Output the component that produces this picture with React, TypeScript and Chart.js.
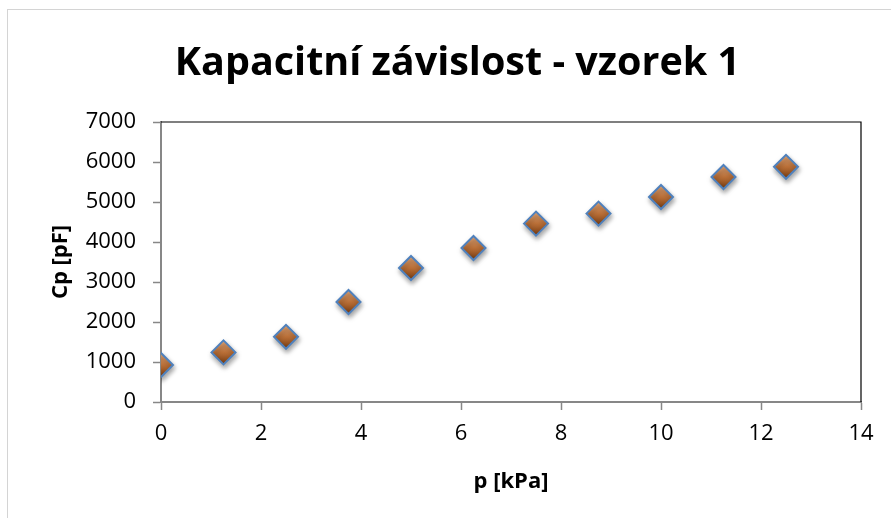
import React, { useEffect, useRef } from "react";
import { Chart, registerables } from "chart.js";

Chart.register(...registerables);

const TITLE = "Kapacitní závislost - vzorek 1";
const X_TITLE = "p [kPa]";
const Y_TITLE = "Cp [pF]";
const pressure = [0, 1.25, 2.5, 3.75, 5, 6.25, 7.5, 8.75, 10, 11.25, 12.5];
const capacitance = [925, 1240, 1630, 2500, 3350, 3850, 4460, 4710, 5125, 5625, 5880];
const X_MIN = 0;
const X_MAX = 14;
const X_STEP = 2;
const Y_MIN = 0;
const Y_MAX = 7000;
const Y_STEP = 1000;

const FONT = "'Open Sans', Lato, 'Liberation Sans', sans-serif";

const frameLines = {
  id: "frameLines",
  beforeDatasetsDraw(chart: any) {
    const { ctx, chartArea } = chart;
    ctx.save();
    ctx.strokeStyle = "#000000";
    ctx.lineWidth = 1.2;
    ctx.beginPath();
    ctx.moveTo(chartArea.left, chartArea.top);
    ctx.lineTo(chartArea.right, chartArea.top);
    ctx.lineTo(chartArea.right, chartArea.bottom);
    ctx.stroke();
    ctx.restore();
    ctx.save();
    ctx.shadowColor = "rgba(0,0,0,0.35)";
    ctx.shadowBlur = 5;
    ctx.shadowOffsetX = 1;
    ctx.shadowOffsetY = 3;
  },
  afterDatasetsDraw(chart: any) {
    chart.ctx.restore();
  },
};

export default function App() {
  const ref = useRef<HTMLCanvasElement | null>(null);

  useEffect(() => {
    document.body.style.margin = "0";
    document.body.style.background = "#ffffff";
    if (!ref.current) return;
    const R = 12;
    const chart = new Chart(ref.current, {
      type: "scatter",
      data: {
        datasets: [
          {
            label: "Cp",
            yAxisID: "y",
            data: pressure.map((x, i) => ({ x, y: capacitance[i] })),
            pointStyle: "rectRot",
            pointRadius: R,
            pointHoverRadius: R,
            pointBorderWidth: 2,
            pointBorderColor: "#4f81bd",
            pointBackgroundColor: (c: any) => {
              const ch = c.chart;
              if (c.type !== "data" || !ch.scales || !ch.scales.y) return "#b0672f";
              const py = ch.scales.y.getPixelForValue(capacitance[c.dataIndex]);
              if (!Number.isFinite(py)) return "#b0672f";
              const g = ch.ctx.createLinearGradient(0, py - R, 0, py + R);
              g.addColorStop(0, "#eeb080");
              g.addColorStop(0.5, "#bb7038");
              g.addColorStop(1, "#743a10");
              return g;
            },
          },
        ],
      },
      options: {
        animation: false,
        responsive: false,
        maintainAspectRatio: false,
        events: [],
        layout: { padding: { left: 24, right: 0, top: 0, bottom: 0 } },
        plugins: {
          legend: { display: false },
          tooltip: { enabled: false },
          title: {
            display: true,
            text: TITLE,
            color: "#000000",
            font: { family: FONT, size: 39.5, weight: "bold", lineHeight: 1.2 },
            padding: { top: 40.3, bottom: 34.3 },
          },
        },
        scales: {
          x: {
            type: "linear",
            min: X_MIN,
            max: X_MAX,
            afterFit: (s: any) => {
              s.height = 116;
            },
            ticks: {
              stepSize: X_STEP,
              color: "#000000",
              padding: 11,
              font: { family: FONT, size: 22 },
              callback: (v: any) => String(v),
            },
            grid: {
              drawOnChartArea: false,
              drawTicks: true,
              tickLength: 8,
              tickColor: "#878787",
              tickWidth: 1.5,
            },
            border: { display: true, color: "#878787", width: 2 },
            title: {
              display: true,
              text: X_TITLE,
              color: "#000000",
              font: { family: FONT, size: 22, weight: "bold", lineHeight: 1.2 },
              padding: { top: 0, bottom: 23 },
            },
          },
          y: {
            type: "linear",
            min: Y_MIN,
            max: Y_MAX,
            afterFit: (s: any) => {
              s.width = 137;
            },
            ticks: {
              stepSize: Y_STEP,
              color: "#000000",
              padding: 17,
              font: { family: FONT, size: 22 },
              callback: (v: any) => String(v),
            },
            grid: {
              drawOnChartArea: false,
              drawTicks: true,
              tickLength: 8,
              tickColor: "#878787",
              tickWidth: 1.5,
            },
            border: { display: true, color: "#878787", width: 2 },
            title: {
              display: true,
              text: Y_TITLE,
              color: "#000000",
              font: { family: FONT, size: 22, weight: "bold", lineHeight: 1.2 },
              padding: { top: 24, bottom: 0 },
            },
          },
          yRightSpace: {
            type: "linear",
            position: "right",
            display: true,
            afterFit: (s: any) => {
              s.width = 30;
            },
            ticks: { display: false },
            grid: { display: false, drawTicks: false },
            border: { display: false },
            title: { display: false },
          },
        },
      },
      plugins: [frameLines],
    });
    return () => chart.destroy();
  }, []);

  return (
    <div style={{ position: "relative", width: 891, height: 518, overflow: "hidden", background: "#ffffff" }}>
      <div
        style={{
          position: "absolute",
          left: 7,
          top: 9,
          width: 2000,
          height: 2000,
          border: "1px solid #d4d4d4",
        }}
      />
      <canvas ref={ref} width={891} height={518} style={{ position: "absolute", left: 0, top: 0, display: "block" }} />
    </div>
  );
}
